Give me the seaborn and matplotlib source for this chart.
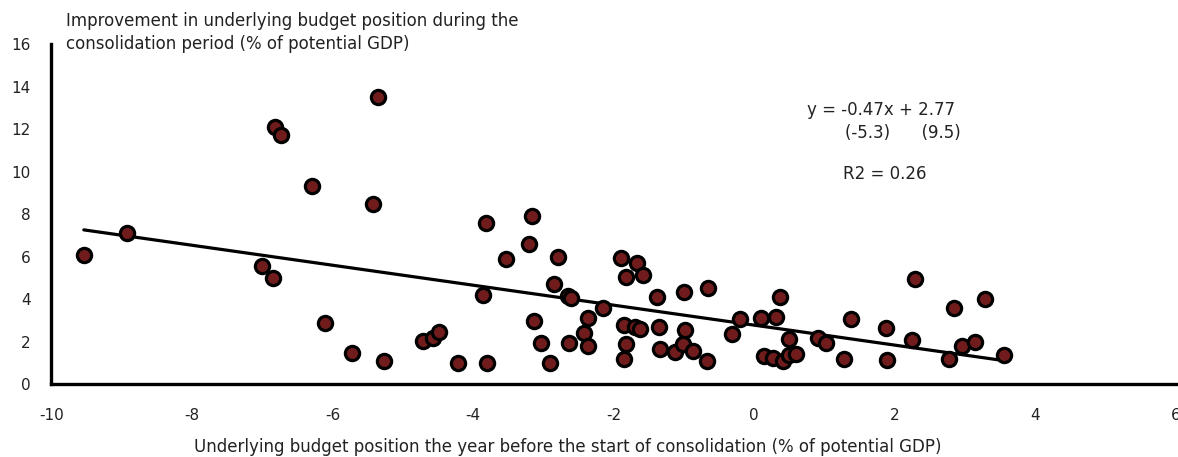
import numpy as np
import pandas as pd
import matplotlib
matplotlib.use("Agg")
import matplotlib.pyplot as plt
import seaborn as sns

# underlying budget position the year before consolidation (% of potential GDP)
budget_before = [
    -9.54, -8.93, -7.00, -6.85, -6.82, -6.74, -6.29, -6.11, -5.72, -5.42,
    -5.35, -5.27, -4.71, -4.57, -4.48, -4.22, -3.86, -3.82, -3.80, -3.53,
    -3.20, -3.17, -3.14, -3.03, -2.91, -2.85, -2.80, -2.65, -2.61, -2.64,
    -2.43, -2.37, -2.36, -2.15, -1.90, -1.86, -1.86, -1.83, -1.82, -1.70,
    -1.67, -1.62, -1.58, -1.39, -1.36, -1.34, -1.13, -1.02, -1.00, -0.99,
    -0.87, -0.66, -0.67, -0.32, -0.21, 0.10, 0.14, 0.26, 0.31, 0.37,
    0.41, 0.49, 0.50, 0.59, 0.91, 1.02, 1.27, 1.37, 1.88, 1.89,
    2.25, 2.29, 2.77, 2.84, 2.95, 3.14, 3.28, 3.55,
]
# improvement in underlying budget position during consolidation
improvement = [
    6.06, 7.12, 5.55, 4.99, 12.08, 11.74, 9.34, 2.85, 1.44, 8.45,
    13.52, 1.09, 2.03, 2.17, 2.43, 1.00, 4.21, 7.57, 1.00, 5.88,
    6.60, 7.93, 2.97, 1.91, 1.00, 4.73, 5.98, 4.13, 4.05, 1.91,
    2.38, 3.13, 1.80, 3.58, 5.93, 2.77, 1.17, 5.04, 1.86, 2.69,
    5.71, 2.61, 5.12, 4.10, 2.69, 1.63, 1.52, 1.88, 4.33, 2.54,
    1.55, 4.54, 1.08, 2.35, 3.05, 3.13, 1.33, 1.24, 3.16, 4.10,
    1.08, 2.11, 1.36, 1.41, 2.15, 1.94, 1.17, 3.05, 2.64, 1.13,
    2.07, 4.92, 1.20, 3.58, 1.80, 1.99, 4.02, 1.36,
]

# reported fit
slope, intercept = -0.47, 2.77

df = pd.DataFrame({"x": budget_before, "y": improvement})
trend = pd.DataFrame({"x": [min(budget_before), max(budget_before)]})
trend["y"] = slope * trend["x"] + intercept

sns.set_style("white")
plt.rcParams["font.family"] = ["DejaVu Sans"]
plt.rcParams["axes.unicode_minus"] = False

fig = plt.figure(figsize=(11.78, 4.57), dpi=100)
ax = fig.add_axes([0.0437, 0.1597, 0.9546, 0.744])

sns.lineplot(data=trend, x="x", y="y", color="black", linewidth=2.3, ax=ax, zorder=2)
sns.scatterplot(data=df, x="x", y="y", ax=ax, s=105, color="#701c1c",
                edgecolor="black", linewidth=2.3, zorder=3, clip_on=False)

ax.set_xlim(-10, 6)
ax.set_ylim(0, 16)
ax.set_xticks(np.arange(-10, 7, 2))
ax.set_yticks(np.arange(0, 17, 2))

for s in ["top", "right"]:
    ax.spines[s].set_visible(False)
for s in ["left", "bottom"]:
    ax.spines[s].set_linewidth(2.4)
    ax.spines[s].set_color("black")
ax.tick_params(axis="both", direction="out", length=4, width=2.2, color="black",
               labelsize=11, labelcolor="#222222")
ax.tick_params(axis="x", pad=13)
ax.tick_params(axis="y", pad=11)

txt = dict(fontsize=12, color="#222222")
ax.set_xlabel("Underlying budget position the year before the start of consolidation (% of potential GDP)", **txt)
ax.xaxis.set_label_coords((568 - 51.5) / 1124.5, -0.16)
ax.set_ylabel("")

ax.text(15 / 1124.5, 1.034, "Improvement in underlying budget position during the\nconsolidation period (% of potential GDP)",
        transform=ax.transAxes, ha="left", va="center", linespacing=1.3, **txt)

ax.text(0.75, 12.9, "y = -0.47x + 2.77", ha="left", va="center", **txt)
ax.text(1.29, 11.8, "(-5.3)      (9.5)", ha="left", va="center", **txt)
ax.text(1.26, 9.88, "R2 = 0.26", ha="left", va="center", **txt)

fig.savefig("out.png", dpi=100)
